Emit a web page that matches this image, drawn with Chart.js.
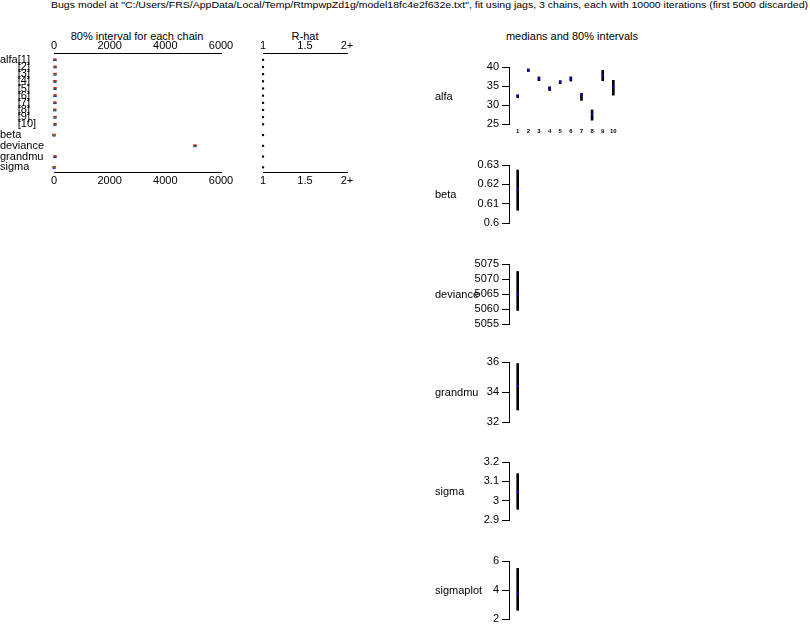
<!DOCTYPE html>
<html><head><meta charset="utf-8">
<script src="https://cdn.jsdelivr.net/npm/chart.js@4/dist/chart.umd.min.js"></script>
<style>
body{margin:0;background:#fff;width:810px;height:625px;position:relative;overflow:hidden;font-family:"Liberation Sans",Arial,sans-serif;}
canvas{position:absolute;}
.t{position:absolute;font-size:11px;color:#000;white-space:nowrap;line-height:1;}
.c{transform:translate(-50%,-50%);}
</style></head><body>
<div id="mainTitle" class="t" style="left:51px;top:0px;font-size:9.5px;transform-origin:0 0;">Bugs model at "C:/Users/FRS/AppData/Local/Temp/RtmpwpZd1g/model18fc4e2f632e.txt", fit using jags, 3 chains, each with 10000 iterations (first 5000 discarded)</div>
<div class="t c" style="left:137px;top:36px;">80% interval for each chain</div>
<div class="t c" style="left:305px;top:36px;">R-hat</div>
<div class="t c" style="left:572px;top:36px;">medians and 80% intervals</div>
<canvas id="cvChains" width="240" height="195" style="left:0;top:0"></canvas>
<canvas id="cvRhat" width="110" height="195" style="left:250px;top:0"></canvas>
<canvas id="cvAlfa" width="207" height="81" style="left:420px;top:57px"></canvas>
<canvas id="cvBeta" width="207" height="78" style="left:420px;top:155px"></canvas>
<canvas id="cvDeviance" width="207" height="80" style="left:420px;top:254px"></canvas>
<canvas id="cvGrandmu" width="207" height="80" style="left:420px;top:352px"></canvas>
<canvas id="cvSigma" width="207" height="78" style="left:420px;top:452px"></canvas>
<canvas id="cvSigmaplot" width="207" height="78" style="left:420px;top:551px"></canvas>
<script>
// ---------- left panels: per-chain 80% intervals and R-hat ----------
const paramNames = ['alfa[1]','alfa[2]','alfa[3]','alfa[4]','alfa[5]','alfa[6]','alfa[7]','alfa[8]','alfa[9]','alfa[10]','beta','deviance','grandmu','sigma'];
const chain1Low  = [31.9, 38.8, 36.5, 33.8, 35.6, 36.3, 31.2, 26.1, 36.4, 32.7, 0.607, 5059.4, 32.8, 2.956];
const chain1High = [32.7, 39.5, 37.4, 34.8, 36.5, 37.4, 33.1, 28.7, 39.1, 36.5, 0.627, 5072.3, 35.9, 3.140];
const chain2Low  = [31.9, 38.8, 36.4, 33.9, 35.6, 36.3, 31.1, 26.0, 36.3, 32.6, 0.607, 5059.6, 32.8, 2.954];
const chain2High = [32.8, 39.4, 37.4, 34.8, 36.4, 37.4, 33.0, 28.8, 39.2, 36.6, 0.628, 5072.6, 36.0, 3.138];
const chain3Low  = [32.0, 38.8, 36.4, 33.8, 35.7, 36.2, 31.2, 26.0, 36.4, 32.6, 0.606, 5059.5, 32.7, 2.955];
const chain3High = [32.7, 39.5, 37.5, 34.8, 36.5, 37.5, 33.1, 28.7, 39.1, 36.5, 0.627, 5072.5, 35.9, 3.141];
const rhatValues = [1.001, 1.000, 1.001, 1.000, 1.001, 1.000, 1.001, 1.001, 1.000, 1.001, 1.000, 1.001, 1.000, 1.001];
const intervalTicks = [0, 2000, 4000, 6000];
const rhatTicks = [1, 1.5, 2];
const rhatTickLabels = ['1', '1.5', '2+'];
const chainColors = ['#ff0000', '#00c000', '#0000ff'];

// ---------- right panel: medians and 80% intervals ----------
const alfaIndex  = [1, 2, 3, 4, 5, 6, 7, 8, 9, 10];
const alfaMedian = [32.4, 39.1, 37.0, 34.4, 36.1, 37.0, 32.5, 27.6, 37.8, 34.8];
const alfaLow    = [31.9, 38.8, 36.4, 33.8, 35.6, 36.3, 31.2, 26.0, 36.4, 32.6];
const alfaHigh   = [32.7, 39.5, 37.4, 34.8, 36.4, 37.4, 33.1, 28.7, 39.1, 36.5];
const alfaTicks  = [25, 30, 35, 40];
const betaMedian = [0.6175], betaLow = [0.6066], betaHigh = [0.6274];
const betaTicks = [0.6, 0.61, 0.62, 0.63];
const devianceMedian = [5064.9], devianceLow = [5059.5], devianceHigh = [5072.5];
const devianceTicks = [5055, 5060, 5065, 5070, 5075];
const grandmuMedian = [34.4], grandmuLow = [32.8], grandmuHigh = [35.9];
const grandmuTicks = [32, 34, 36];
const sigmaMedian = [3.046], sigmaLow = [2.955], sigmaHigh = [3.14];
const sigmaTicks = [2.9, 3, 3.1, 3.2];
const sigmaplotMedian = [3.75], sigmaplotLow = [2.6], sigmaplotHigh = [5.49];
const sigmaplotTicks = [2, 4, 6];

const FONT = '"Liberation Sans", Arial, sans-serif';
Chart.defaults.font.family = FONT;
Chart.defaults.color = '#000';

// fit main title width
(function(){
  const el = document.getElementById('mainTitle');
  const w = el.getBoundingClientRect().width;
  el.style.transform = 'scaleX(' + (757 / w) + ')';
})();

const baseOf = n => n.split('[')[0];
const rowPos = [];
paramNames.forEach((n, i) => {
  if (i === 0) rowPos.push(0);
  else rowPos.push(rowPos[i-1] + (baseOf(n) === baseOf(paramNames[i-1]) ? 1 : 1.5));
});
const rowMin = -0.95, rowMax = rowPos[rowPos.length-1] + 0.65;

const rowLabelPlugin = {
  id: 'rowLabels',
  afterDraw(chart) {
    const ctx = chart.ctx, ys = chart.scales.y;
    ctx.save();
    ctx.font = '11px ' + FONT;
    ctx.fillStyle = '#000';
    ctx.textBaseline = 'middle';
    ctx.textAlign = 'left';
    paramNames.forEach((n, i) => {
      const py = ys.getPixelForValue(rowPos[i]);
      const b = n.indexOf('[');
      if (b < 0) { ctx.fillText(n, 0, py); return; }
      const base = n.slice(0, b), idx = n.slice(b);
      const w = ctx.measureText(base).width;
      if (i === 0 || baseOf(paramNames[i-1]) !== base) ctx.fillText(base, 0, py);
      ctx.fillText(idx, w, py);
    });
    ctx.restore();
  }
};

const chains = [
  {low: chain1Low, high: chain1High},
  {low: chain2Low, high: chain2High},
  {low: chain3Low, high: chain3High}
];
const chainOffsets = [-0.1, 0, 0.1];

function xAxis(pos, height, pad, ticksArr, labels, fontSize) {
  return {
    type: 'linear', position: pos,
    min: ticksArr[0], max: ticksArr[ticksArr.length-1],
    afterBuildTicks: s => { s.ticks = ticksArr.map(v => ({value: v})); },
    afterFit: s => { s.height = height; },
    grid: {display: false, drawTicks: false},
    border: {display: true, color: '#000', width: 1},
    ticks: {padding: pad, color: '#000', font: {size: fontSize}, maxRotation: 0, autoSkip: false,
      callback: (v, i) => labels ? labels[i] : String(v)}
  };
}

new Chart(document.getElementById('cvChains'), {
  type: 'line',
  data: {
    datasets: chains.map((c, ci) => ({
      label: 'chain ' + (ci + 1),
      data: rowPos.flatMap((p, i) => [
        {x: c.low[i], y: p + chainOffsets[ci]},
        {x: c.high[i], y: p + chainOffsets[ci]}
      ]),
      borderColor: chainColors[ci],
      borderWidth: 1,
      segment: {borderColor: ctx => ctx.p0.parsed.y === ctx.p1.parsed.y ? chainColors[ci] : 'rgba(0,0,0,0)'},
      pointStyle: 'line', pointRadius: 1.5, pointBorderWidth: 1,
      pointBorderColor: chainColors[ci], pointBackgroundColor: chainColors[ci],
      fill: false, tension: 0, clip: false
    }))
  },
  options: {
    responsive: false, animation: false, events: [], devicePixelRatio: 1,
    layout: {padding: {left: 54, right: 19, top: 0, bottom: 0}},
    plugins: {legend: {display: false}, tooltip: {enabled: false}},
    scales: {
      x: xAxis('bottom', 23, 2, intervalTicks, null, 11),
      x2: xAxis('top', 53, 0, intervalTicks, null, 11),
      y: {type: 'linear', display: false, reverse: true, min: rowMin, max: rowMax}
    }
  },
  plugins: [rowLabelPlugin]
});

new Chart(document.getElementById('cvRhat'), {
  type: 'scatter',
  data: {
    datasets: [{
      label: 'R-hat',
      data: rowPos.map((p, i) => ({x: rhatValues[i], y: p})),
      pointStyle: 'rect', pointRadius: 1.5, pointBorderWidth: 0,
      pointBackgroundColor: '#000', backgroundColor: '#000', clip: false
    }]
  },
  options: {
    responsive: false, animation: false, events: [], devicePixelRatio: 1,
    layout: {padding: {left: 13, right: 13, top: 0, bottom: 0}},
    plugins: {legend: {display: false}, tooltip: {enabled: false}},
    scales: {
      x: xAxis('bottom', 23, 2, rhatTicks, rhatTickLabels, 11),
      x2: xAxis('top', 53, 0, rhatTicks, rhatTickLabels, 11),
      y: {type: 'linear', display: false, reverse: true, min: rowMin, max: rowMax}
    }
  }
});

// ---------- right panels ----------
const panelLabelPlugin = {
  id: 'panelLabel',
  afterDraw(chart) {
    const lbl = chart.options.plugins.panelLabel.text;
    const a = chart.chartArea, ctx = chart.ctx;
    ctx.save();
    ctx.font = '11px ' + FONT;
    ctx.fillStyle = '#000';
    ctx.textBaseline = 'middle';
    ctx.textAlign = 'left';
    ctx.fillText(lbl, 15, (a.top + a.bottom) / 2 + 1);
    ctx.restore();
  }
};

const X_AREA_W = 118, X_UNIT = 11;
const xMin = 1 - 9 / X_UNIT, xMax = xMin + X_AREA_W / X_UNIT;

function makePanel(id, label, xs, med, lo, hi, yTicks, showX) {
  new Chart(document.getElementById(id), {
    type: 'bar',
    data: {
      datasets: [
        {
          type: 'scatter', label: 'median', order: 0,
          data: xs.map((x, i) => ({x: x, y: med[i]})),
          pointStyle: 'rect', pointRadius: 1.42, pointBorderWidth: 0,
          pointBackgroundColor: '#0000ff', backgroundColor: '#0000ff', showLine: false, clip: false
        },
        {
          type: 'bar', label: '80% interval', order: 1,
          data: xs.map((x, i) => ({x: x, y: [lo[i], hi[i]]})),
          backgroundColor: '#000', borderWidth: 0, barThickness: 2, clip: false
        }
      ]
    },
    options: {
      responsive: false, animation: false, events: [], devicePixelRatio: 1,
      layout: {padding: {left: 0, right: 0, top: 10, bottom: showX ? 0 : 10}},
      plugins: {legend: {display: false}, tooltip: {enabled: false}, panelLabel: {text: label}},
      scales: {
        x: {
          type: 'linear', display: showX, min: xMin, max: xMax, offset: false,
          afterBuildTicks: s => { s.ticks = xs.map(v => ({value: v})); },
          afterFit: s => { s.height = showX ? 14 : 0; },
          grid: {display: false, drawTicks: false, offset: false},
          border: {display: false},
          ticks: {padding: 4, color: '#000', font: {size: 6, weight: 'bold'}, maxRotation: 0, autoSkip: false,
            callback: v => String(v)}
        },
        y: {
          type: 'linear', min: yTicks[0], max: yTicks[yTicks.length-1], beginAtZero: false,
          afterBuildTicks: s => { s.ticks = yTicks.map(v => ({value: v})); },
          afterFit: s => { s.width = 89; },
          grid: {display: true, drawOnChartArea: false, drawTicks: true, tickLength: 7, tickColor: '#000', lineWidth: 1},
          border: {display: true, color: '#000', width: 1},
          ticks: {padding: 3, color: '#000', font: {size: 11}, autoSkip: false, callback: (v, i) => String(yTicks[i])}
        }
      }
    },
    plugins: [panelLabelPlugin]
  });
}

makePanel('cvAlfa', 'alfa', alfaIndex, alfaMedian, alfaLow, alfaHigh, alfaTicks, true);
makePanel('cvBeta', 'beta', [1], betaMedian, betaLow, betaHigh, betaTicks, false);
makePanel('cvDeviance', 'deviance', [1], devianceMedian, devianceLow, devianceHigh, devianceTicks, false);
makePanel('cvGrandmu', 'grandmu', [1], grandmuMedian, grandmuLow, grandmuHigh, grandmuTicks, false);
makePanel('cvSigma', 'sigma', [1], sigmaMedian, sigmaLow, sigmaHigh, sigmaTicks, false);
makePanel('cvSigmaplot', 'sigmaplot', [1], sigmaplotMedian, sigmaplotLow, sigmaplotHigh, sigmaplotTicks, false);
</script>
</body></html>
